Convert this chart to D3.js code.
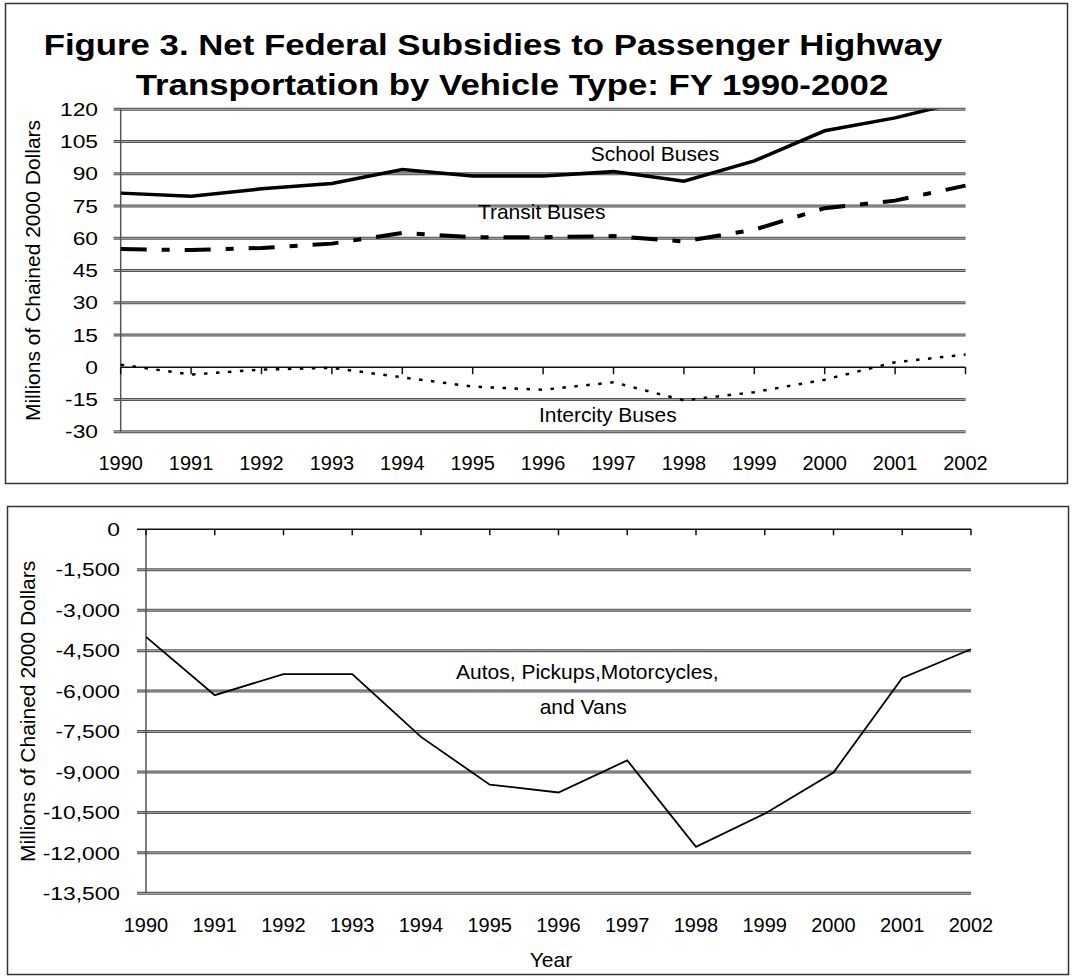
<!DOCTYPE html>
<html>
<head>
    <meta charset="utf-8">
    <title>Figure 3</title>
    <script src="https://d3js.org/d3.v7.min.js"></script>
    <style>
        body { margin: 0; background: #fff; }
        text { font-family: "Liberation Sans", Arial, sans-serif; fill: #000; }
    </style>
</head>
<body>
    <div id="chart"></div>
    <script>
        // data
        const years = [1990, 1991, 1992, 1993, 1994, 1995, 1996, 1997, 1998, 1999, 2000, 2001, 2002];
        const schoolBuses = [81, 79.5, 83, 85.5, 92, 89, 89, 91, 86.5, 96, 110, 116, 124];
        const transitBuses = [55, 54.5, 55.5, 57.5, 62.5, 60.5, 60.5, 61, 58.5, 64, 74, 77.5, 84.5];
        const intercityBuses = [1.2, -3.4, -1.1, -0.3, -4.7, -9, -10.5, -7, -15.4, -11.6, -5.8, 2.3, 5.9];
        const autos = [-3990, -6150, -5370, -5370, -7700, -9470, -9760, -8570, -11780, -10550, -9020, -5510, -4450];
        const topTicks = [120, 105, 90, 75, 60, 45, 30, 15, 0, -15, -30];
        const bottomTicks = [0, -1500, -3000, -4500, -6000, -7500, -9000, -10500, -12000, -13500];
        const titleLines = ["Figure 3. Net Federal Subsidies to Passenger Highway",
            "Transportation by Vehicle Type: FY 1990-2002"];
        const yTitle = "Millions of Chained 2000 Dollars";

        const fmt = d3.formatLocale({ decimal: ".", thousands: ",", grouping: [3], currency: ["$", ""], minus: "-" });

        const svg = d3.select("#chart").append("svg")
            .attr("width", 1072).attr("height", 980);

        // frames
        svg.append("rect").attr("x", 5.5).attr("y", 3.5).attr("width", 1062).attr("height", 480)
            .attr("fill", "none").attr("stroke", "#333").attr("stroke-width", 1.5);
        svg.append("rect").attr("x", 7.5).attr("y", 506.5).attr("width", 1061).attr("height", 468)
            .attr("fill", "none").attr("stroke", "#333").attr("stroke-width", 1.5);

        // title is drawn a bit wide, like the source
        const titleX = [493, 512];
        svg.selectAll(".title").data(titleLines).join("text")
            .attr("class", "title")
            .attr("transform", (d, i) => `translate(${titleX[i]},${55 + i * 40}) scale(1.16,1)`)
            .attr("text-anchor", "middle")
            .attr("font-size", 30).attr("font-weight", "bold")
            .text(d => d);

        function drawGrid(g, x, y, ticks, skip, tickLen) {
            ticks.filter(t => t !== skip).forEach(t => {
                g.append("line").attr("x1", x.range()[0] - tickLen).attr("x2", x.range()[1])
                    .attr("y1", y(t)).attr("y2", y(t))
                    .attr("stroke", "#555").attr("stroke-width", 3);
                g.append("line").attr("x1", x.range()[0] - tickLen).attr("x2", x.range()[1])
                    .attr("y1", y(t)).attr("y2", y(t))
                    .attr("stroke", "#aaa").attr("stroke-width", 1);
            });
        }

        function drawYAxis(g, x, y, ticks, format, labelX, titleX) {
            g.append("line").attr("x1", x.range()[0]).attr("x2", x.range()[0])
                .attr("y1", y.range()[0]).attr("y2", y.range()[1])
                .attr("stroke", "#555").attr("stroke-width", 1.5);
            g.selectAll(".ylab").data(ticks).join("text")
                .attr("transform", d => `translate(${labelX},${y(d)}) scale(1.2,1)`)
                .attr("dy", "0.35em").attr("text-anchor", "end")
                .attr("font-size", 19).text(format);
            const mid = (y.range()[0] + y.range()[1]) / 2;
            g.append("text")
                .attr("transform", `translate(${titleX},${mid}) rotate(-90)`)
                .attr("text-anchor", "middle").attr("dy", "0.35em")
                .attr("font-size", 21).text(yTitle);
        }

        function drawXAxis(g, x, y, zero, labelY, tickLen) {
            g.append("line").attr("x1", x.range()[0]).attr("x2", x.range()[1])
                .attr("y1", y(zero)).attr("y2", y(zero))
                .attr("stroke", "#111").attr("stroke-width", 1.5);
            g.selectAll(".xtick").data(years).join("line")
                .attr("x1", d => x(d)).attr("x2", d => x(d))
                .attr("y1", y(zero)).attr("y2", y(zero) + tickLen)
                .attr("stroke", "#111").attr("stroke-width", 1.5);
            g.selectAll(".xlab").data(years).join("text")
                .attr("x", d => x(d)).attr("y", labelY)
                .attr("dy", "0.35em").attr("text-anchor", "middle")
                .attr("font-size", 20).text(d => d);
        }

        // ---- top chart
        const xTop = d3.scaleLinear().domain([1990, 2002]).range([120.7, 965.5]);
        const yTop = d3.scaleLinear().domain([-30, 120]).range([431.7, 109.3]);
        const gTop = svg.append("g");
        svg.append("clipPath").attr("id", "clipTop").append("rect")
            .attr("x", 120.7).attr("y", 109.3).attr("width", 845).attr("height", 323);

        drawGrid(gTop, xTop, yTop, topTicks, 0, 7);
        drawYAxis(gTop, xTop, yTop, topTicks, d => fmt.format("d")(d), 98, 33);
        drawXAxis(gTop, xTop, yTop, 0, 463, 7);

        const topLine = vals => d3.line()
            .x((d, i) => xTop(years[i]))
            .y(d => yTop(d))(vals);

        gTop.append("path").attr("d", topLine(schoolBuses))
            .attr("clip-path", "url(#clipTop)")
            .attr("fill", "none").attr("stroke", "#000").attr("stroke-width", 3.5);
        gTop.append("path").attr("d", topLine(transitBuses))
            .attr("fill", "none").attr("stroke", "#000").attr("stroke-width", 4)
            .attr("stroke-dasharray", "26,15,8,15");
        gTop.append("path").attr("d", topLine(intercityBuses))
            .attr("fill", "none").attr("stroke", "#000").attr("stroke-width", 2.5)
            .attr("stroke-dasharray", "3.5,8.5");

        const topLabels = [
            { text: "School Buses", year: 1997.59, value: 99.2 },
            { text: "Transit Buses", year: 1995.98, value: 72.4 },
            { text: "Intercity Buses", year: 1996.92, value: -22 }
        ];
        gTop.selectAll(".lab").data(topLabels).join("text")
            .attr("x", d => xTop(d.year)).attr("y", d => yTop(d.value))
            .attr("dy", "0.35em").attr("text-anchor", "middle")
            .attr("font-size", 21).text(d => d.text);

        // ---- bottom chart
        const xBot = d3.scaleLinear().domain([1990, 2002]).range([146, 971]);
        const yBot = d3.scaleLinear().domain([-13500, 0]).range([893.3, 529.3]);
        const gBot = svg.append("g");

        drawGrid(gBot, xBot, yBot, bottomTicks, 0, 9);
        drawYAxis(gBot, xBot, yBot, bottomTicks, fmt.format(","), 120, 28);
        drawXAxis(gBot, xBot, yBot, 0, 925, 6);
        gBot.append("line").attr("x1", xBot.range()[0] - 9).attr("x2", xBot.range()[0])
            .attr("y1", yBot(0)).attr("y2", yBot(0)).attr("stroke", "#111").attr("stroke-width", 1.5);

        gBot.append("path")
            .attr("d", d3.line().x((d, i) => xBot(years[i])).y(d => yBot(d))(autos))
            .attr("fill", "none").attr("stroke", "#000").attr("stroke-width", 1.8);

        const botLabels = [
            { text: "Autos, Pickups,Motorcycles,", year: 1996.42, value: -5282 },
            { text: "and Vans", year: 1996.36, value: -6580 }
        ];
        gBot.selectAll(".lab").data(botLabels).join("text")
            .attr("x", d => xBot(d.year)).attr("y", d => yBot(d.value))
            .attr("dy", "0.35em").attr("text-anchor", "middle")
            .attr("font-size", 21).text(d => d.text);

        gBot.append("text")
            .attr("x", 551).attr("y", 960)
            .attr("dy", "0.35em").attr("text-anchor", "middle")
            .attr("font-size", 21).text("Year");
    </script>
</body>
</html>
